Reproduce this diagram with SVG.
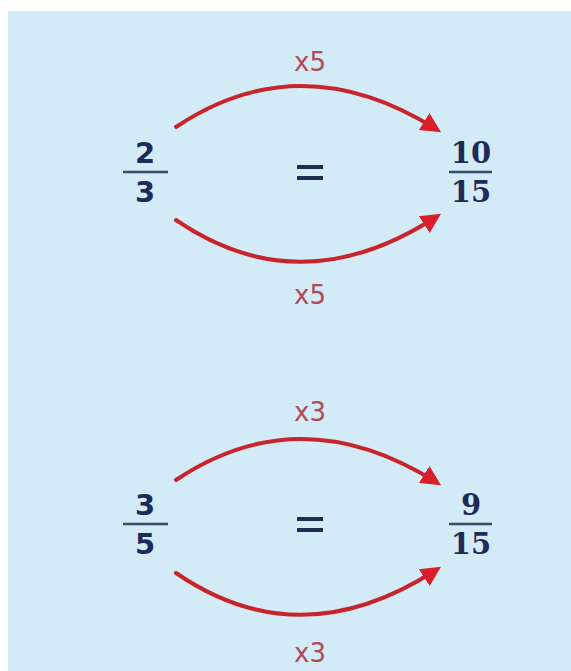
<svg xmlns="http://www.w3.org/2000/svg" width="571" height="671" viewBox="0 0 571 671">
<style>
.lbl{font-family:"DejaVu Sans","Liberation Sans",sans-serif;font-size:26px;fill:#b24a56;text-anchor:middle}
.fl{font-family:"DejaVu Sans","Liberation Sans",sans-serif;font-weight:bold;font-size:29px;fill:#1e2a5a;text-anchor:middle}
.fr{font-family:"DejaVu Serif","Liberation Serif",serif;font-weight:bold;font-size:29px;fill:#1e2a5a;text-anchor:middle}
.bar{stroke:#3a4a6a;stroke-width:2.5}
.eq{stroke:#1f2d50;stroke-width:4}
.arc{fill:none;stroke:#c8242c;stroke-width:4;stroke-linecap:round}
</style>
<defs>
<marker id="ah" viewBox="0 0 10 10" refX="7" refY="5" markerWidth="5" markerHeight="5" orient="auto" markerUnits="strokeWidth">
<path d="M0,0 L10,5 L0,10 z" fill="#d81f2a"/>
</marker>
</defs>
<rect x="8" y="11" width="563" height="660" fill="#d3ebf6"/>
<g id="connectors">
<path class="arc" d="M176,127 Q300,44 436,129" marker-end="url(#ah)"/>
<path class="arc" d="M176,220 Q300,305 436,217" marker-end="url(#ah)"/>
<path class="arc" d="M176,480 Q300,397 436,482" marker-end="url(#ah)"/>
<path class="arc" d="M176,573 Q300,658 436,570" marker-end="url(#ah)"/>
</g>
<g id="label-top1"><text class="lbl" x="310" y="71">x5</text></g>
<g id="label-bot1"><text class="lbl" x="310" y="304">x5</text></g>
<g id="label-top2"><text class="lbl" x="310" y="421">x3</text></g>
<g id="label-bot2"><text class="lbl" x="310" y="662">x3</text></g>
<g id="frac-2-3">
<text class="fl" x="145" y="163">2</text>
<line class="bar" x1="123" y1="172" x2="168" y2="172"/>
<text class="fl" x="145" y="202">3</text>
</g>
<g id="eq1">
<line class="eq" x1="297" y1="167" x2="323" y2="167"/>
<line class="eq" x1="297" y1="178" x2="323" y2="178"/>
</g>
<g id="frac-10-15">
<text class="fr" x="471" y="163">10</text>
<line class="bar" x1="449" y1="172" x2="492" y2="172"/>
<text class="fr" x="471" y="202">15</text>
</g>
<g id="frac-3-5">
<text class="fl" x="145" y="515">3</text>
<line class="bar" x1="123" y1="524" x2="168" y2="524"/>
<text class="fl" x="145" y="554">5</text>
</g>
<g id="eq2">
<line class="eq" x1="297" y1="519" x2="323" y2="519"/>
<line class="eq" x1="297" y1="530" x2="323" y2="530"/>
</g>
<g id="frac-9-15">
<text class="fr" x="471" y="515">9</text>
<line class="bar" x1="449" y1="524" x2="492" y2="524"/>
<text class="fr" x="471" y="554">15</text>
</g>
</svg>
